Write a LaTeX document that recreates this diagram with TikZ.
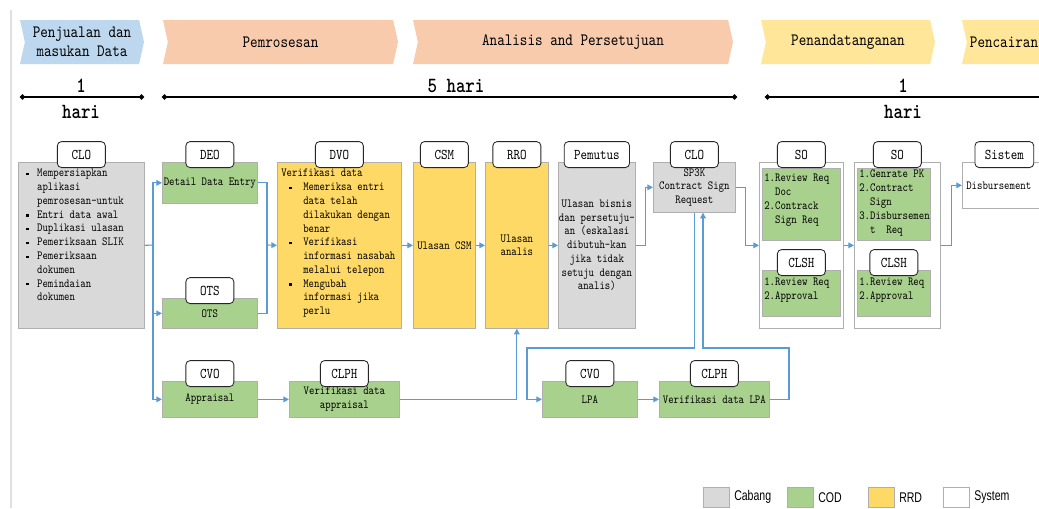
\documentclass[tikz,border=0pt]{standalone}
\usepackage{fontspec}
\setmainfont[FakeStretch=0.834, BoldFont=lmmonolt10-bold.otf]{lmmono10-regular.otf}
\newfontfamily\legendfont[FakeStretch=0.75]{Liberation Sans}
\usepackage{xcolor}
\usepackage{tikz}
\definecolor{hdrblue}{RGB}{189,215,238}
\definecolor{hdrsalmon}{RGB}{248,203,173}
\definecolor{hdryellow}{RGB}{255,230,153}
\definecolor{cabanggray}{RGB}{217,217,217}
\definecolor{codgreen}{RGB}{169,209,142}
\definecolor{rrdyellow}{RGB}{255,217,102}
\definecolor{flowblue}{RGB}{91,155,213}
\definecolor{edgegray}{RGB}{175,175,175}
\usetikzlibrary{shapes.symbols, arrows.meta, positioning, calc}

\newcommand{\pxu}{0.025cm}
\newcommand{\bodyfont}{\fontsize{8.8}{9.8}\selectfont}
\newcommand{\dotmark}{\raisebox{0.3ex}{\rule{1.7pt}{1.7pt}}}
\newcommand{\cloitem}{\makebox[0.27cm][l]{\dotmark}}
\newcommand{\cloind}{\hspace*{0.27cm}}
\newcommand{\dvoitem}{\hspace*{0.2cm}\makebox[0.35cm][l]{\dotmark}}
\newcommand{\dvoind}{\hspace*{0.55cm}}

\tikzset{
  hdr/.style={signal, signal to=east, signal from=west, signal pointer angle=155,
    minimum height=44*\pxu, inner sep=0pt, align=center,
    font=\fontsize{12.3}{13.5}\selectfont},
  stagebox/.style={draw=edgegray, line width=0.5pt, inner sep=0pt, anchor=north west,
    align=center, font=\bodyfont},
  cabang/.style={stagebox, fill=cabanggray},
  cod/.style={stagebox, fill=codgreen},
  rrd/.style={stagebox, fill=rrdyellow},
  sysbox/.style={stagebox, fill=white},
  roletab/.style={draw=black!85, fill=white, rounded corners=3pt, line width=0.6pt,
    minimum width=48*\pxu, minimum height=26*\pxu, inner xsep=7pt, inner ysep=0pt,
    font=\fontsize{10.6}{11}\selectfont},
  boxtxt/.style={anchor=north west, inner sep=0pt, align=left, font=\bodyfont},
  flow/.style={draw=flowblue, line width=0.8pt, -{Triangle[length=4pt,width=4pt]}},
  flowline/.style={draw=flowblue, line width=0.8pt},
  timeline/.style={line width=1.4pt, {Circle[length=3.5pt]}-{Circle[length=3.5pt]}},
  daytxt/.style={inner sep=0pt, font=\fontsize{15.4}{16}\selectfont\bfseries},
  swatch/.style={draw=edgegray, minimum width=26*\pxu, minimum height=20*\pxu,
    inner sep=0pt, anchor=north west},
  legtxt/.style={anchor=west, inner sep=0pt, font=\legendfont\fontsize{10}{10}\selectfont}
}

\begin{document}
\begin{tikzpicture}[x=0.025cm, y=-0.025cm]
  \useasboundingbox (0,0) rectangle (1039,508);
  \clip (0,0) rectangle (1039,508);
  \fill[white] (0,0) rectangle (1039,508);
  \draw[black!12, line width=1.2pt] (11,10) -- (11,508);

  % phases
  \node[hdr, fill=hdrblue, minimum width=124*\pxu] (hSales) at (82,42) {Penjualan dan\\masukan Data};
  \node[hdr, fill=hdrsalmon, minimum width=235*\pxu] (hProc) at (280.5,42) {Pemrosesan};
  \node[hdr, fill=hdrsalmon, minimum width=320*\pxu] (hAnalysis) at (573,42) {Analisis and Persetujuan};
  \node[hdr, fill=hdryellow, minimum width=174*\pxu] (hSign) at (848,42) {Penandatanganan};
  \node[hdr, fill=hdryellow, minimum width=84*\pxu] (hPay) at (1004,42) {Pencairan};

  % durations
  \coordinate (t1a) at (20,97);  \coordinate (t1b) at (144,97);
  \coordinate (t2a) at (162,97); \coordinate (t2b) at (737,97);
  \coordinate (t3a) at (765,97); \coordinate (t3b) at (1070,97);
  \draw[timeline] (t1a) -- (t1b);
  \draw[timeline] (t2a) -- (t2b);
  \draw[timeline] (t3a) -- (t3b);
  \node[daytxt] (d1top) at (81,86) {1};
  \node[daytxt] (d1bot) at (81,112) {hari};
  \node[daytxt] (d2top) at (456,86) {5 hari};
  \node[daytxt] (d3top) at (903,86) {1};
  \node[daytxt] (d3bot) at (903,112) {hari};

  % main row
  \node[cabang, minimum width=126*\pxu, minimum height=166*\pxu] (clo) at (18,162) {};
  \node[cod, minimum width=95*\pxu, minimum height=41*\pxu] (deo) at (162,162) {Detail Data Entry};
  \node[cod, minimum width=95*\pxu, minimum height=30*\pxu] (ots) at (162,298) {OTS};
  \node[rrd, minimum width=124*\pxu, minimum height=166*\pxu] (dvo) at (277,162) {};
  \node[rrd, minimum width=62*\pxu, minimum height=166*\pxu] (csm) at (413,162) {Ulasan CSM};
  \node[rrd, minimum width=63*\pxu, minimum height=166*\pxu] (rro) at (485,162) {Ulasan\\analis};
  \node[cabang, minimum width=77*\pxu, minimum height=166*\pxu] (pemutus) at (558,162)
    {Ulasan bisnis\\dan persetuju-\\an (eskalasi\\dibutuh-kan\\jika tidak\\setuju dengan\\analis)};
  \node[cabang, minimum width=82*\pxu, minimum height=50*\pxu] (sp3k) at (653,162)
    {SP3K\\Contract Sign\\Request};
  \node[sysbox, minimum width=84*\pxu, minimum height=166*\pxu] (so) at (759,162) {};
  \node[cod, minimum width=78*\pxu, minimum height=72*\pxu] (soReq) at (762,168) {};
  \node[cod, minimum width=78*\pxu, minimum height=46*\pxu] (soApv) at (762,270) {};
  \node[sysbox, minimum width=86*\pxu, minimum height=166*\pxu] (soFin) at (854,162) {};
  \node[cod, minimum width=73*\pxu, minimum height=72*\pxu] (finReq) at (857,168) {};
  \node[cod, minimum width=73*\pxu, minimum height=46*\pxu] (finApv) at (857,270) {};
  \node[sysbox, minimum width=84*\pxu, minimum height=46*\pxu] (sistem) at (962,162) {};

  % lower row
  \node[cod, minimum width=95*\pxu, minimum height=36*\pxu] (cvo) at (162,381) {Appraisal};
  \node[cod, minimum width=110*\pxu, minimum height=36*\pxu] (clph) at (289,381) {Verifikasi data\\appraisal};
  \node[cod, minimum width=95*\pxu, minimum height=36*\pxu] (lpa) at (542,381) {LPA};
  \node[cod, minimum width=110*\pxu, minimum height=36*\pxu] (clphLpa) at (659,381) {Verifikasi data LPA};

  % box texts
  \node[boxtxt] (cloList) at (26,169) {\cloitem Mempersiapkan\\\cloind aplikasi\\\cloind pemrosesan-untuk\\
    \cloitem Entri data awal\\\cloitem Duplikasi ulasan\\\cloitem Pemeriksaan SLIK\\
    \cloitem Pemeriksaan\\\cloind dokumen\\\cloitem Pemindaian\\\cloind dokumen};
  \node[boxtxt] (dvoList) at (281,169) {Verifikasi data\\\dvoitem Memeriksa entri\\\dvoind data telah\\
    \dvoind dilakukan dengan\\\dvoind benar\\\dvoitem Verifikasi\\\dvoind informasi nasabah\\
    \dvoind melalui telepon\\\dvoitem Mengubah\\\dvoind informasi jika\\\dvoind perlu};
  \node[boxtxt] (soReqTxt) at (764,174) {1.Review Req\\\phantom{1.}Doc\\2.Contrack\\\phantom{1.}Sign Req};
  \node[boxtxt] (soApvTxt) at (764,278) {1.Review Req\\2.Approval};
  \node[boxtxt] (finReqTxt) at (859,170) {1.Genrate PK\\2.Contract\\\phantom{1.}Sign\\3.Disbursemen\\\phantom{1.}t~~Req};
  \node[boxtxt] (finApvTxt) at (859,278) {1.Review Req\\2.Approval};
  \node[boxtxt, anchor=west] (sistemTxt) at (966,186) {Disbursement};

  % role tabs
  \node[roletab, above=-0.15cm of clo] (cloTab) {CLO};
  \node[roletab, above=-0.15cm of deo] (deoTab) {DEO};
  \node[roletab, above=-0.15cm of ots] (otsTab) {OTS};
  \node[roletab, above=-0.15cm of dvo] (dvoTab) {DVO};
  \node[roletab, above=-0.15cm of csm] (csmTab) {CSM};
  \node[roletab, above=-0.15cm of rro] (rroTab) {RRO};
  \node[roletab, above=-0.15cm of pemutus] (pemutusTab) {Pemutus};
  \node[roletab, above=-0.15cm of sp3k] (sp3kTab) {CLO};
  \node[roletab, above=-0.15cm of so] (soTab) {SO};
  \node[roletab, above=-0.15cm of soApv] (soApvTab) {CLSH};
  \node[roletab, above=-0.15cm of soFin] (soFinTab) {SO};
  \node[roletab, above=-0.15cm of finApv] (finApvTab) {CLSH};
  \node[roletab, above=-0.15cm of sistem] (sistemTab) {Sistem};
  \node[roletab, above=-0.15cm of cvo] (cvoTab) {CVO};
  \node[roletab, above=-0.15cm of clph] (clphTab) {CLPH};
  \node[roletab, above=-0.15cm of lpa] (lpaTab) {CVO};
  \node[roletab, above=-0.15cm of clphLpa] (clphLpaTab) {CLPH};

  % flow
  \coordinate (split) at (153,245);
  \coordinate (merge) at (267,245);
  \draw[flowline] (clo.east) -- (split);
  \draw[flow] (split) |- (deo.west);
  \draw[flow] (split) |- (ots.west);
  \draw[flow] (split) |- (cvo.west);
  \draw[flowline] (deo.east) -| (merge);
  \draw[flowline] (ots.east) -| (merge);
  \draw[flow] (merge) -- (dvo.west);
  \draw[flow] (dvo.east) -- (csm.west);
  \draw[flow] (csm.east) -- (rro.west);
  \draw[flow] (rro.east) -- (pemutus.west);
  \draw[flow] (pemutus.east) -- ++(10,0) |- (sp3k.west);
  \draw[flow] (sp3k.east) -- ++(10,0) |- (so.west);
  \draw[flow] (so.east) -- (soFin.west);
  \draw[flow] (soFin.east) -- ++(11,0) |- (sistem.west);
  \draw[flow] (cvo.east) -- (clph.west);
  \draw[flow] (clph.east) -| (rro.south);
  \coordinate (lpaIn) at (527,348);
  \coordinate (backUp) at (703,348);
  \draw[flow] (sp3k.south) |- (lpaIn) |- (lpa.west);
  \draw[flow] (lpa.east) -- (clphLpa.west);
  \draw[flow] (clphLpa.east) -| (789,348) -- (backUp) -- (backUp |- sp3k.south);

  % legend
  \node[swatch, fill=cabanggray] (legCabang) at (703,487) {};
  \node[legtxt, right=0.11cm of legCabang] (legCabangTxt) {Cabang};
  \node[swatch, fill=codgreen] (legCod) at (787,487) {};
  \node[legtxt, right=0.11cm of legCod] (legCodTxt) {COD};
  \node[swatch, fill=rrdyellow] (legRrd) at (868,487) {};
  \node[legtxt, right=0.11cm of legRrd] (legRrdTxt) {RRD};
  \node[swatch, fill=white] (legSys) at (943,487) {};
  \node[legtxt, right=0.11cm of legSys] (legSysTxt) {System};
\end{tikzpicture}
\end{document}
